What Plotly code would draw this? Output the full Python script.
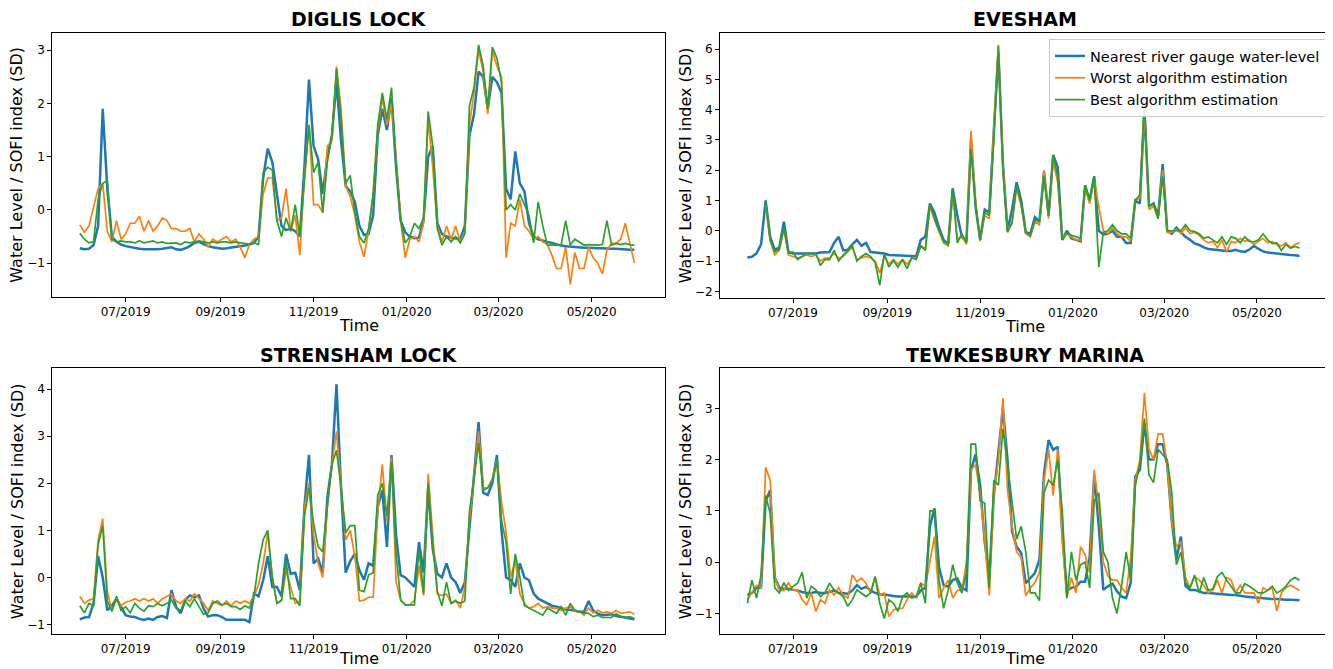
import pandas as pd
import plotly.graph_objects as go

# ---------------- data (3-day sampling, starting 2019-06-01) ----------------
start_date = "2019-06-01"
n_points = 122
dates = pd.date_range(start_date, periods=n_points, freq="3D")

series_names = ["Nearest river gauge water-level", "Worst algorithm estimation", "Best algorithm estimation"]
panel_titles = ["DIGLIS LOCK", "EVESHAM", "STRENSHAM LOCK", "TEWKESBURY MARINA"]
x_tick_dates = ["2019-07-01", "2019-09-01", "2019-11-01", "2020-01-01", "2020-03-01", "2020-05-01"]
x_tick_labels = ["07/2019", "09/2019", "11/2019", "01/2020", "03/2020", "05/2020"]

diglis_gauge = [
    -0.72, -0.74, -0.73, -0.66, -0.3, 1.9, 0.4, -0.5, -0.6, -0.65,
    -0.68, -0.7, -0.72, -0.73, -0.74, -0.74, -0.75, -0.74, -0.73, -0.72,
    -0.7, -0.74, -0.75, -0.72, -0.68, -0.62, -0.6, -0.64, -0.68, -0.7,
    -0.72, -0.73, -0.72, -0.71, -0.7, -0.68, -0.67, -0.65, -0.62, -0.5,
    0.6, 1.15, 0.9, 0.3, -0.3, -0.38, -0.35, -0.4, -0.5, 0.8,
    2.45, 1.2, 0.95, 0.3, 1.0, 1.4, 2.4, 1.3, 0.45, 0.35,
    0.15, -0.3, -0.47, -0.45, -0.1, 1.4, 1.9, 1.5, 2.1, 0.8,
    -0.2, -0.42, -0.5, -0.53, -0.52, -0.2, 1.0, 1.2, -0.25, -0.45,
    -0.5, -0.52, -0.53, -0.55, -0.3, 1.4, 1.8, 2.6, 2.5, 1.9,
    2.5, 2.4, 2.2, 0.4, 0.2, 1.1, 0.5, 0.35, -0.25, -0.5,
    -0.55, -0.58, -0.6, -0.62, -0.65, -0.67, -0.68, -0.69, -0.7, -0.7,
    -0.71, -0.71, -0.72, -0.72, -0.72, -0.73, -0.73, -0.73, -0.74, -0.74,
    -0.75, -0.75]
diglis_worst = [
    -0.28, -0.42, -0.3, 0.05, 0.4, 0.5, -0.4, -0.6, -0.2, -0.55,
    -0.45, -0.25, -0.25, -0.12, -0.4, -0.2, -0.4, -0.3, -0.15, -0.2,
    -0.35, -0.35, -0.4, -0.4, -0.35, -0.6, -0.45, -0.55, -0.7, -0.55,
    -0.6, -0.55, -0.5, -0.6, -0.55, -0.7, -0.9, -0.65, -0.55, -0.5,
    0.3, 0.6, 0.6, -0.2, -0.15, 0.4, -0.4, -0.1, -0.85, 0.6,
    1.6, 0.1, 0.1, -0.05, 1.2, 1.3, 2.7, 1.9, 0.45, 0.25,
    -0.1, -0.6, -0.88, -0.4, 0.3, 1.5, 2.1, 1.6, 2.0, 1.0,
    -0.2, -0.9, -0.55, -0.5, -0.6, -0.25, 1.7, 0.8, -0.3, -0.6,
    -0.3, -0.55, -0.3, -0.6, -0.4, 1.6, 2.2, 3.0, 2.6, 1.8,
    3.0, 2.7, 2.5, -0.9, -0.25, -0.3, 0.2, -0.3, -0.4, -0.55,
    -0.5, -0.6, -0.65, -0.85, -1.1, -1.1, -0.7, -1.4, -0.8, -1.1,
    -1.1, -0.7, -0.9, -1.0, -1.2, -0.75, -0.63, -0.63, -0.55, -0.25,
    -0.6, -1.0]
diglis_best = [
    -0.44, -0.55, -0.62, -0.6, 0.2, 0.5, 0.55, -0.55, -0.6, -0.58,
    -0.6, -0.6, -0.62, -0.58, -0.62, -0.6, -0.58, -0.62, -0.6, -0.63,
    -0.63, -0.62, -0.65, -0.6, -0.62, -0.6, -0.58, -0.6, -0.62, -0.6,
    -0.62, -0.6, -0.6, -0.62, -0.6, -0.62, -0.63, -0.64, -0.62, -0.65,
    0.7, 0.8, 0.75, -0.2, -0.5, -0.15, -0.4, 0.1, -0.5, 0.6,
    1.6, 0.7, 0.9, -0.05, 0.9, 1.4, 2.65, 1.7, 0.5, 0.65,
    -0.05, -0.5, -0.62, -0.35, 0.3, 1.6, 2.2, 1.7, 2.3, 0.9,
    -0.2, -0.62, -0.5, -0.25, -0.35, -0.15, 1.85, 1.2, -0.35, -0.66,
    -0.5, -0.6, -0.5, -0.62, -0.45, 1.95, 2.3, 3.1, 2.7, 1.9,
    3.06, 2.85, 2.4, 0.0, 0.1, 0.0, 0.3, 0.1, -0.1, -0.62,
    0.15, -0.3, -0.66, -0.66, -0.66, -0.66, -0.2, -0.66, -0.55, -0.6,
    -0.66, -0.65, -0.66, -0.66, -0.65, -0.2, -0.66, -0.63, -0.65, -0.63,
    -0.65, -0.66]

evesham_gauge = [
    -0.88, -0.86, -0.75, -0.45, 1.0, -0.2, -0.63, -0.55, 0.3, -0.7,
    -0.75, -0.75, -0.75, -0.75, -0.75, -0.75, -0.72, -0.7, -0.7, -0.4,
    -0.2, -0.65, -0.63, -0.45, -0.3, -0.5, -0.4, -0.7, -0.72, -0.74,
    -0.75, -0.8, -0.81, -0.82, -0.82, -0.83, -0.84, -0.84, -0.3, -0.2,
    0.9, 0.6, 0.1, -0.3, -0.45, 1.4, 0.5, -0.2, -0.35, 3.0,
    0.8, -0.3, 0.7, 0.6, 3.3, 5.9, 2.2, 0.0, 0.7, 1.6,
    1.0, -0.05, -0.1, 0.45, 0.3, 1.95, 0.5, 2.5, 2.1, -0.3,
    0.0, -0.25, -0.3, -0.35, 1.5, 1.0, 1.8, 0.0, -0.12, -0.1,
    0.0, -0.2, -0.2, -0.4, -0.4, 1.0, 0.9, 4.0, 0.8, 0.9,
    0.5, 2.2, 0.0, -0.1, 0.1, -0.05, -0.2, -0.3, -0.42, -0.47,
    -0.55, -0.6, -0.62, -0.65, -0.66, -0.67, -0.67, -0.63, -0.68, -0.7,
    -0.62, -0.5, -0.6, -0.68, -0.72, -0.74, -0.76, -0.77, -0.79, -0.8,
    -0.81, -0.83]
evesham_worst = [
    None, None, None, None, 0.85, -0.35, -0.8, -0.65, 0.05, -0.8,
    -0.85, -0.9, -0.85, -0.8, -0.85, -0.8, -1.0, -0.9, -0.9, -0.75,
    -0.9, -0.85, -0.7, -0.55, -0.95, -0.9, -0.85, -0.9, -1.0, -1.4,
    -0.85, -1.1, -0.95, -1.1, -0.95, -1.1, -0.9, -0.9, -0.5, -0.6,
    0.8, 0.35, -0.05, -0.4, -0.5, 1.3, -0.3, -0.15, -0.45, 3.3,
    1.0, -0.35, 0.5, 0.4, 3.4, 6.15, 2.2, 0.0, 0.3, 1.4,
    0.8, -0.1, -0.2, 0.3, 0.2, 2.0, 0.4, 2.3, 1.6, -0.2,
    -0.1, -0.2, -0.3, -0.3, 1.4, 0.9, 1.7, 0.8, 0.0, -0.1,
    0.1, -0.1, -0.2, -0.2, -0.35, 1.0, 1.1, 4.0, 0.7, 0.8,
    0.4, 2.0, -0.05, -0.05, 0.05, -0.1, 0.1, -0.1, -0.05, -0.15,
    -0.3, -0.4, -0.35, -0.55, -0.3, -0.7, -0.35, -0.4, -0.25, -0.35,
    -0.3, -0.45, -0.35, -0.25, -0.4, -0.35, -0.45, -0.5, -0.4, -0.55,
    -0.45, -0.4]
evesham_best = [
    None, None, None, None, 0.95, -0.3, -0.7, -0.6, 0.1, -0.75,
    -0.7, -0.95, -0.85, -0.75, -0.75, -0.75, -1.15, -0.95, -0.95, -0.65,
    -1.0, -0.8, -0.65, -0.5, -1.0, -0.85, -0.75, -0.85, -1.05, -1.8,
    -0.75, -1.2, -0.98, -1.2, -0.95, -1.25, -0.9, -0.95, -0.5, -0.65,
    0.9, 0.4, 0.0, -0.35, -0.45, 1.4, -0.4, -0.1, -0.4, 2.7,
    0.9, -0.3, 0.6, 0.5, 3.0, 6.1, 2.0, -0.05, 0.25, 1.5,
    0.9, -0.05, -0.15, 0.35, 0.3, 1.8, 0.5, 2.5, 1.8, -0.3,
    -0.1, -0.15, -0.2, -0.25, 1.5, 1.0, 1.8, -1.2, -0.05, 0.0,
    0.2, 0.0, -0.1, -0.1, -0.25, 1.0, 1.2, 4.3, 0.8, 0.9,
    0.4, 1.8, 0.0, 0.0, 0.0, 0.0, 0.2, 0.0, -0.03, -0.1,
    -0.25, -0.2, -0.3, -0.4, -0.2, -0.45, -0.2, -0.25, -0.4, -0.2,
    -0.35, -0.37, -0.3, -0.1, -0.3, -0.42, -0.4, -0.65, -0.45, -0.58,
    -0.52, -0.57]

strensham_gauge = [
    -0.89, -0.85, -0.84, -0.55, 0.45, 0.0, -0.7, -0.6, -0.45, -0.62,
    -0.8, -0.83, -0.84, -0.88, -0.9, -0.87, -0.9, -0.84, -0.82, -0.86,
    -0.27, -0.62, -0.76, -0.48, -0.38, -0.42, -0.38, -0.66, -0.83, -0.8,
    -0.8, -0.84, -0.9, -0.9, -0.9, -0.9, -0.9, -0.95, -0.34, -0.4,
    -0.06, 0.45, -0.2, -0.2, -0.4, 0.5, 0.08, 0.1, -0.27, 1.5,
    2.6, 0.3, 0.4, 0.1, 1.7, 2.4, 4.1, 1.9, 0.1, 0.35,
    0.5, 0.15, -0.05, 0.3, 0.25, 1.5, 1.85, 0.65, 2.6, 0.9,
    0.05, 0.0, -0.1, -0.2, 0.75, 0.1, 1.9, 0.6, 0.08, 0.0,
    0.3, 0.0, -0.1, -0.33, -0.1, 1.05, 2.1, 3.3, 1.8, 1.75,
    2.0, 2.6, 1.0, 0.0, -0.05, -0.2, 0.3, 0.0, -0.06, -0.34,
    -0.45, -0.5, -0.55, -0.6, -0.62, -0.65, -0.68, -0.69, -0.7, -0.73,
    -0.73, -0.5, -0.7, -0.77, -0.8, -0.79, -0.78, -0.82, -0.83, -0.85,
    -0.87, -0.89]
strensham_worst = [
    -0.4, -0.55, -0.48, -0.45, 0.8, 1.25, -0.3, -0.7, -0.45, -0.6,
    -0.52, -0.5, -0.45, -0.5, -0.45, -0.5, -0.45, -0.55, -0.45, -0.4,
    -0.35, -0.5, -0.55, -0.45, -0.5, -0.35, -0.45, -0.55, -0.7, -0.5,
    -0.55, -0.6, -0.5, -0.6, -0.5, -0.55, -0.5, -0.55, -0.4, -0.15,
    0.3, 0.95, 0.0, -0.55, -0.5, 0.15, -0.2, -0.55, -0.5, 1.5,
    2.0, 0.9, 0.3, 0.0, 1.5, 2.4, 3.1, 2.0, 0.8, 1.0,
    0.45, -0.5, -0.48, -0.42, -0.42, 1.4, 2.4, 1.2, 2.55, -0.1,
    -0.48, -0.58, -0.58, -0.48, 0.25, -0.38, 2.2, 0.9, -0.35, -0.38,
    -0.35, -0.55, -0.48, -0.65, -0.2, 1.2, 2.2, 3.1, 1.9, 1.9,
    2.1, 2.5, 1.6, 0.95, 0.0, 0.37, -0.35, -0.55, -0.65, -0.62,
    -0.55, -0.65, -0.62, -0.65, -0.65, -0.7, -0.65, -0.62, -0.72, -0.72,
    -0.8, -0.65, -0.75, -0.7, -0.75, -0.73, -0.76, -0.7, -0.76, -0.75,
    -0.73, -0.78]
strensham_best = [
    -0.6, -0.75, -0.55, -0.6, 0.7, 1.1, -0.5, -0.72, -0.4, -0.7,
    -0.62, -0.75, -0.55, -0.65, -0.72, -0.6, -0.62, -0.55, -0.6, -0.55,
    -0.48, -0.65, -0.7, -0.5, -0.62, -0.45, -0.62, -0.78, -0.75, -0.55,
    -0.5, -0.58, -0.55, -0.62, -0.62, -0.68, -0.6, -0.65, -0.4, 0.3,
    0.8, 1.0, 0.0, -0.55, -0.48, 0.35, -0.45, -0.45, -0.6, 1.3,
    1.9, 1.15, 0.65, 0.55, 1.5, 2.4, 2.7, 1.9, 0.95, 1.1,
    1.1, -0.27, -0.3, 0.05, 0.1, 1.75, 2.0, 1.3, 2.45, 0.5,
    -0.48, -0.58, -0.58, -0.58, 0.6, -0.34, 2.0, 0.7, -0.3, -0.6,
    -0.1, -0.55, -0.5, -0.55, -0.5, 1.4, 2.1, 2.85, 1.85, 1.9,
    2.05, 2.5, 1.2, 0.75, -0.35, 0.5, 0.0, -0.6, -0.65, -0.7,
    -0.76, -0.8, -0.65, -0.7, -0.76, -0.62, -0.8, -0.55, -0.7, -0.73,
    -0.76, -0.76, -0.83, -0.8, -0.85, -0.85, -0.85, -0.77, -0.83, -0.85,
    -0.83, -0.87]

tewkesbury_gauge = [
    -0.64, -0.6, -0.5, -0.5, 1.2, 1.4, -0.3, -0.5, -0.52, -0.52,
    -0.54, -0.55, -0.58, -0.6, -0.6, -0.58, -0.6, -0.6, -0.58, -0.55,
    -0.6, -0.6, -0.62, -0.55, -0.45, -0.52, -0.48, -0.55, -0.6, -0.63,
    -0.63, -0.65, -0.66, -0.67, -0.67, -0.68, -0.68, -0.67, -0.55, -0.5,
    0.7, 1.05, -0.1, -0.45, -0.48, -0.35, -0.32, -0.5, -0.55, 1.8,
    2.1, 1.5, 0.4, -0.3, 1.3, 2.2, 3.0, 2.0, 0.6, 0.3,
    0.18, -0.41, -0.31, -0.21, 0.05, 1.73, 2.38, 2.19, 2.25, 0.56,
    -0.55, -0.5, -0.48, -0.38, -0.38, 0.1, 1.7, 0.7, -0.54, -0.47,
    -0.42, -0.57, -0.67, -0.7, -0.4, 1.67, 1.8, 2.7, 2.0, 2.0,
    2.3, 2.3, 1.9, 0.8, 0.05, 0.5, -0.46, -0.54, -0.54, -0.57,
    -0.6, -0.6, -0.61, -0.62, -0.63, -0.64, -0.64, -0.64, -0.66, -0.67,
    -0.68, -0.69, -0.7, -0.7, -0.72, -0.72, -0.72, -0.73, -0.73, -0.73,
    -0.74, -0.74]
tewkesbury_worst = [
    -0.73, -0.6, -0.45, -0.5, 1.85, 1.6, -0.3, -0.55, -0.55, -0.4,
    -0.54, -0.54, -0.73, -0.83, -0.6, -0.96, -0.73, -0.8, -0.54, -0.64,
    -0.5, -0.64, -0.7, -0.25, -0.38, -0.31, -0.41, -0.6, -0.29, -0.64,
    -0.6, -1.06, -0.93, -0.9, -0.9, -0.73, -0.6, -0.7, -0.41, -0.47,
    0.05, 0.5, -0.7, -0.5, -0.35, -0.7, -0.55, -0.55, 0.0, 1.8,
    1.9, 1.35, 0.45, -0.65, 1.3, 2.0, 3.2, 1.4, 0.7, 0.2,
    0.1, -0.65, -0.5, -0.4, -0.2, 1.6, 2.2, 1.3, 2.2, 0.4,
    -0.7, -0.3, -0.6, 0.3, 0.15, -0.2, 1.8, 1.1, 0.0, -0.27,
    -0.35, -0.35, -0.5, -0.6, 0.1, 1.6, 2.0, 3.3, 2.2, 2.0,
    2.5, 2.5, 1.9, 0.8, 0.3, 0.4, -0.3, -0.5, -0.28, -0.35,
    -0.45, -0.6, -0.55, -0.35, -0.6, -0.3, -0.35, -0.6, -0.45, -0.6,
    -0.6, -0.6, -0.8, -0.5, -0.55, -0.5, -0.95, -0.6, -0.5, -0.45,
    -0.5, -0.55]
tewkesbury_best = [
    -0.8, -0.35, -0.7, -0.25, 1.3, 0.95, -0.5, -0.6, -0.4, -0.55,
    -0.47, -0.41, -0.2, -0.7, -0.47, -0.54, -0.67, -0.6, -0.41, -0.54,
    -0.6, -0.67, -0.86, -0.73, -0.54, -0.6, -0.67, -0.6, -0.28, -0.8,
    -1.1, -0.73, -0.8, -0.96, -0.67, -0.6, -0.7, -0.67, -0.41, -0.8,
    1.0, 1.0, -0.35, -0.9, -0.55, -0.05, -0.4, -0.6, -0.2, 2.3,
    2.3, 1.2, 1.15, -0.5, 1.6, 1.5, 2.6, 1.9, 1.15, 0.45,
    0.7, 0.2, -0.6, -0.6, -0.75, 1.35, 1.6, 1.5, 2.0, 1.0,
    -0.7, 0.2, -0.35, -0.05, 0.0, -0.5, 1.2, 1.35, 0.2, 0.0,
    -0.7, -1.0, -0.45, 0.2, -0.35, 1.5, 1.9, 2.8, 1.7, 1.55,
    2.2, 2.1, 2.0, 1.35, -0.05, 0.2, -0.4, -0.5, -0.25, -0.6,
    -0.3, -0.55, -0.52, -0.28, -0.2, -0.35, -0.47, -0.6, -0.6, -0.42,
    -0.47, -0.53, -0.6, -0.6, -0.55, -0.47, -0.6, -0.55, -0.47, -0.35,
    -0.3, -0.35]

y_ranges = [[-1.63, 3.33], [-2.21, 6.54], [-1.2, 4.44], [-1.4, 3.78]]
y_ticks = [[-1, 0, 1, 2, 3], [-2, -1, 0, 1, 2, 3, 4, 5, 6], [-1, 0, 1, 2, 3, 4], [-1, 0, 1, 2, 3]]
x_range = ["2019-05-14", "2020-06-18"]

colors = ["#1f77b4", "#ff7f0e", "#2ca02c"]
widths = [2.5, 1.7, 1.7]

panel_data = [
    (diglis_gauge, diglis_worst, diglis_best),
    (evesham_gauge, evesham_worst, evesham_best),
    (strensham_gauge, strensham_worst, strensham_best),
    (tewkesbury_gauge, tewkesbury_worst, tewkesbury_best),
]

# ---------------- layout geometry ----------------
# The page body keeps an 8px default margin, so the figure is drawn 8px
# smaller and all window-pixel positions are shifted by that offset.
OFF = 8
W, H = 1333 - OFF, 669 - OFF
px_boxes = [  # left, right, top, bottom in window pixels
    (52.3, 665.0, 32.7, 296.7),
    (720.0, 1330.0, 32.7, 297.7),
    (52.3, 665.0, 368.3, 634.0),
    (720.0, 1330.0, 368.3, 634.0),
]


def px(xw):
    return (xw - OFF) / W


def py(yw):
    return 1 - (yw - OFF) / H


fig = go.Figure()
FONT = "DejaVu Sans"

for k, (series, box) in enumerate(zip(panel_data, px_boxes)):
    ax = "" if k == 0 else str(k + 1)
    for j, vals in enumerate(series):
        fig.add_trace(go.Scatter(
            x=dates, y=vals, mode="lines",
            line=dict(color=colors[j], width=widths[j]),
            name=series_names[j], showlegend=(k == 1),
            xaxis="x" + ax, yaxis="y" + ax, connectgaps=False,
        ))
    l, r, t, b = box
    fig.layout["xaxis" + ax] = dict(
        domain=[px(l), px(r)], anchor="y" + ax, type="date", range=x_range,
        tickvals=x_tick_dates, ticktext=x_tick_labels,
        showline=True, mirror=True, linecolor="black", linewidth=1,
        ticks="outside", ticklen=4, tickcolor="black", showgrid=False, zeroline=False,
        tickfont=dict(family=FONT, size=12, color="black"),
    )
    fig.layout["yaxis" + ax] = dict(
        domain=[py(b), py(t)], anchor="x" + ax, range=y_ranges[k],
        tickvals=y_ticks[k], ticktext=[("\u2212" + str(abs(v))) if v < 0 else str(v) for v in y_ticks[k]],
        showline=True, mirror=True, linecolor="black", linewidth=1,
        ticks="outside", ticklen=4, tickcolor="black", showgrid=False, zeroline=False,
        tickfont=dict(family=FONT, size=12, color="black"),
    )
    cx = (l + r) / 2
    # title
    fig.add_annotation(x=px(cx), y=py(t - 13.5), xref="paper", yref="paper",
                       text="<b>" + panel_titles[k] + "</b>", showarrow=False,
                       font=dict(family=FONT, size=19, color="black"),
                       xanchor="center", yanchor="middle")
    # x label
    if k < 2:
        fig.add_annotation(x=px(cx), y=py(b + 29), xref="paper", yref="paper",
                           text="Time", showarrow=False,
                           font=dict(family=FONT, size=16, color="black"),
                           xanchor="center", yanchor="middle")
    else:
        fig.add_annotation(x=px(cx), y=0, xref="paper", yref="paper",
                           text="Time", showarrow=False, borderpad=0,
                           font=dict(family=FONT, size=16, color="black"),
                           xanchor="center", yanchor="bottom")
    # y label
    ylab_x = 17 if k in (0, 2) else 685
    fig.add_annotation(x=px(ylab_x), y=py((t + b) / 2), xref="paper", yref="paper",
                       text="Water Level / SOFI index (SD)", showarrow=False, textangle=-90,
                       font=dict(family=FONT, size=16, color="black"),
                       xanchor="center", yanchor="middle")

fig.update_layout(
    width=W, height=H, margin=dict(l=0, r=0, t=0, b=0),
    paper_bgcolor="white", plot_bgcolor="white",
    showlegend=True,
    legend=dict(x=px(1326), y=py(39), xanchor="right", yanchor="top",
                bgcolor="rgba(255,255,255,0.85)", bordercolor="#cccccc", borderwidth=1,
                font=dict(family=FONT, size=14.5, color="black"), tracegroupgap=0),
    font=dict(family=FONT),
)

fig.write_html("out.html")
